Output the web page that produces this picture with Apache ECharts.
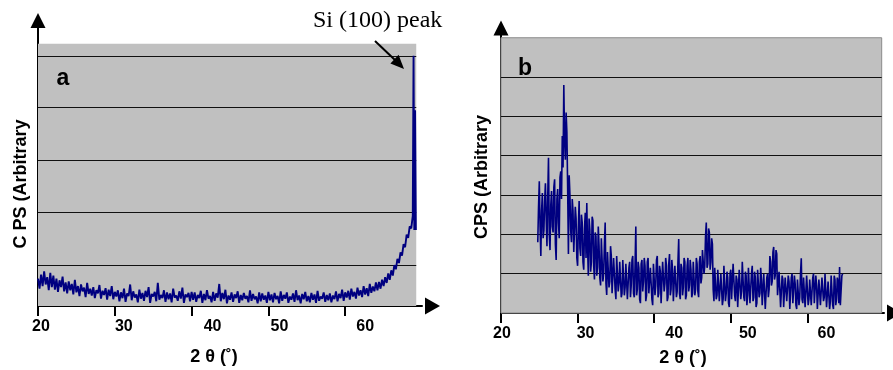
<!DOCTYPE html>
<html><head><meta charset="utf-8">
<script src="https://cdn.jsdelivr.net/npm/echarts@6/dist/echarts.min.js"></script>
<style>html,body{margin:0;padding:0;background:#fff}#c{width:893px;height:370px}</style>
</head><body><div id="c"></div>
<script>
// ---- data ----
const xTickValues = [20, 30, 40, 50, 60, 70];
const xAxisTitle = '2 θ (˚)';
const yTitleA = 'C PS (Arbitrary';
const yTitleB = 'CPS (Arbitrary';
const panelLabelA = 'a';
const panelLabelB = 'b';
const peakNote = 'Si (100) peak';

// panel a: 2θ scan 20.0° .. 68.8° every 0.2°, then the Si peak sampled finer
const angleStartA = 20.0, angleStepA = 0.2;
const valuesA = [
  0.52,0.33,0.60,0.38,0.66,0.41,0.55,0.30,0.63,0.36,0.58,
  0.31,0.52,0.27,0.49,0.36,0.56,0.28,0.45,0.24,0.47,
  0.30,0.42,0.22,0.50,0.26,0.38,0.19,0.41,0.28,0.35,0.17,0.44,0.23,0.33,0.20,
  0.36,0.15,0.30,0.24,0.40,0.14,0.29,0.21,0.34,0.12,0.31,0.19,0.38,0.13,0.27,
  0.18,0.30,0.09,0.26,0.15,0.33,0.08,0.24,0.19,0.41,
  0.11,0.28,0.16,0.22,0.07,0.31,0.14,0.25,0.10,0.29,
  0.17,0.36,0.06,0.23,0.18,0.27,0.09,0.44,0.12,0.21,
  0.15,0.30,0.08,0.26,0.13,0.24,0.07,0.33,0.16,0.20,
  0.10,0.28,0.14,0.35,0.06,0.22,0.17,0.25,0.09,0.27,
  0.12,0.26,0.08,0.21,0.15,0.29,0.06,0.23,0.11,0.30,
  0.14,0.19,0.07,0.27,0.10,0.24,0.16,0.42,0.09,0.25,
  0.13,0.31,0.05,0.20,0.12,0.26,0.08,0.22,0.15,0.28,
  0.06,0.21,0.11,0.25,0.14,0.19,0.07,0.30,0.10,0.23,
  0.13,0.18,0.05,0.26,0.09,0.24,0.12,0.20,0.06,0.27,
  0.11,0.22,0.07,0.25,0.13,0.19,0.05,0.28,0.10,0.21,
  0.14,0.26,0.06,0.18,0.12,0.24,0.08,0.30,0.11,0.20,
  0.05,0.23,0.13,0.27,0.09,0.19,0.07,0.25,0.12,0.22,
  0.06,0.29,0.10,0.18,0.14,0.26,0.08,0.21,0.11,0.24,
  0.07,0.20,0.13,0.28,0.09,0.23,0.15,0.31,0.10,0.26,
  0.16,0.29,0.12,0.33,0.18,0.27,0.14,0.35,0.20,0.30,
  0.17,0.38,0.22,0.34,0.19,0.42,0.25,0.37,0.28,0.45,
  0.30,0.46,0.33,0.50,0.38,0.55,0.44,0.62,0.50,0.68,
  0.58,0.78,0.70,0.90,0.82,1.02,0.96,1.18,1.12,1.36,
  1.30,1.52,1.48,1.72
];
const peakAnglesA = [68.9, 69.0, 69.1, 69.2];
const peakValuesA = [4.77, 1.45, 3.73, 1.45];

// panel b: 2θ scan 24.8° .. 64.6° every 0.1°
const angleStartB = 24.8, angleStepB = 0.1;
const valuesB = [
  1.80,2.70,3.35,2.20,1.45,2.60,3.05,1.90,2.10,2.85,
  3.30,2.40,1.70,2.95,3.95,2.00,1.60,2.75,3.10,2.20,
  2.05,3.20,3.40,1.75,1.35,2.90,3.15,2.30,1.90,3.45,
  3.60,2.90,4.50,3.70,5.80,4.40,3.90,5.10,4.60,3.20,
  1.50,3.50,3.00,2.10,1.80,2.90,2.60,1.55,1.60,2.70,
  2.40,1.40,1.20,2.20,2.85,1.65,1.45,2.50,2.30,1.30,
  1.10,2.15,2.55,1.40,2.80,1.70,0.95,2.40,2.10,1.05,
  1.30,2.45,2.35,1.20,0.85,2.05,1.95,0.95,1.15,2.20,
  1.70,0.90,0.70,1.90,1.85,0.80,1.00,1.75,2.30,0.75,
  0.46,1.55,1.60,0.65,0.80,1.70,1.45,0.50,0.55,1.40,
  1.35,0.60,0.35,1.45,1.50,0.55,0.75,1.30,1.25,0.40,
  0.50,1.35,1.40,0.45,0.65,1.25,1.20,0.35,0.30,1.15,
  1.30,0.40,0.70,1.35,1.45,0.50,0.40,1.20,2.20,0.45,
  0.60,1.30,1.15,0.35,0.25,1.25,1.35,0.55,0.80,1.40,
  1.20,0.30,0.45,1.30,1.40,0.50,0.55,1.15,1.10,0.35,
  0.20,1.25,1.30,0.45,0.70,1.35,1.45,0.40,0.50,1.20,
  1.05,0.25,0.30,1.30,1.35,0.55,0.75,1.40,1.20,0.30,
  0.40,1.25,1.50,0.45,0.60,1.35,1.10,0.30,0.25,1.20,
  1.25,0.40,0.55,1.30,1.88,0.50,0.35,1.25,1.15,0.45,
  0.65,1.40,1.30,0.35,0.45,1.20,1.40,0.55,0.70,1.35,
  1.10,0.40,0.50,1.30,1.35,0.45,0.60,1.40,1.25,0.55,
  0.40,1.30,1.45,0.75,0.90,1.60,1.55,1.00,1.20,1.95,
  2.30,1.15,1.25,2.15,2.05,1.10,1.30,1.90,1.75,0.60,
  0.30,1.15,1.20,0.35,0.45,1.10,1.05,0.30,0.25,1.00,
  0.95,0.20,0.35,1.20,1.15,0.30,0.50,1.05,0.90,0.25,
  0.15,1.00,1.10,0.35,0.40,1.25,1.20,0.45,0.30,0.95,
  0.85,0.15,0.20,1.10,1.05,0.35,0.55,1.30,1.25,0.40,
  0.30,1.05,0.95,0.20,0.45,1.15,1.10,0.25,0.20,1.00,
  1.20,0.30,0.40,1.05,0.90,0.15,0.25,1.10,1.05,0.40,
  0.50,1.15,0.85,0.20,0.15,1.00,0.95,0.10,0.05,0.90,
  1.00,0.40,0.60,1.45,1.30,0.70,0.80,1.55,1.68,0.85,
  0.95,1.60,1.50,0.45,0.40,1.05,1.00,0.15,0.20,0.95,
  0.85,0.15,0.10,0.90,0.95,0.30,0.35,0.95,0.80,0.10,
  0.15,0.90,1.00,0.25,0.30,0.95,0.75,0.20,0.10,0.85,
  0.90,0.20,0.40,1.00,1.39,0.35,0.25,0.90,0.85,0.15,
  0.10,0.95,0.95,0.20,0.35,0.85,0.80,0.20,0.15,0.90,
  1.00,0.25,0.30,0.95,0.70,0.10,0.10,0.85,0.90,0.20,
  0.25,0.90,0.85,0.30,0.40,1.00,0.95,0.15,0.15,0.80,
  0.75,0.10,0.30,0.95,0.90,0.20,0.10,0.95,0.85,0.20,
  0.35,0.90,0.80,0.25,1.17,0.20,0.15,0.95,1.00
];

// horizontal reference lines of each panel (y units of that panel)
const gridLevelsA = [0.77, 1.78, 2.77, 3.78, 4.77];
const gridLevelsB = [1, 2, 3, 4, 5, 6];
const plotTopA = 5.0, plotRightA = 69.25;
const plotTopB = 7.0, plotRightB = 69.7;

// ---- styling: per-tick label nudges (px, left edge vs tick) ----
const labelNudgeA = [-6, 0, 12, 2, 11, 0];
const labelNudgeB = [-8, -1, 11, 8, 10, 0];

// ---- build ----
const seriesDataA = valuesA.map((v, i) => [+(angleStartA + i * angleStepA).toFixed(2), v])
  .concat(peakAnglesA.map((a, i) => [a, peakValuesA[i]]));
const seriesDataB = valuesB.map((v, i) => [+(angleStartB + i * angleStepB).toFixed(2), v]);

const FONT = '"Liberation Sans", Arial, sans-serif';

function xAxisCfg(gi, nudges) {
  const rich = {};
  nudges.forEach((n, k) => {
    rich['n' + k] = { padding: [0, 0, 0, Math.max(0, 2 * n + 18)], color: '#000',
      fontFamily: FONT, fontWeight: 'bold', fontSize: 16 };
  });
  return {
    type: 'value', gridIndex: gi, min: xTickValues[0], max: xTickValues[xTickValues.length - 1], interval: 10,
    axisLine: { show: true, onZero: false, lineStyle: { color: '#000', width: 2 },
      symbol: ['none', 'triangle'], symbolSize: [17, 15], symbolOffset: [0, 10.5] },
    axisTick: { show: true, length: 10, lineStyle: { color: '#000', width: 2 } },
    axisLabel: { show: true, showMaxLabel: false, margin: 13, align: 'center',
      color: '#000', fontFamily: FONT, fontWeight: 'bold', fontSize: 16,
      formatter: v => '{n' + xTickValues.indexOf(v) + '|' + v + '}', rich: rich },
    splitLine: { show: false }
  };
}
function yAxisCfg(gi, max, arrowOffset) {
  return {
    type: 'value', gridIndex: gi, min: 0, max: max,
    axisLine: { show: true, onZero: false, lineStyle: { color: '#000', width: 2 },
      symbol: ['none', 'triangle'], symbolSize: [15, 15], symbolOffset: [0, arrowOffset] },
    axisTick: { show: false }, axisLabel: { show: false }, splitLine: { show: false }
  };
}
function backdrop(xi, top, right, levels, border) {
  return {
    type: 'line', xAxisIndex: xi, yAxisIndex: xi, data: [], z: 1, silent: true,
    markArea: { silent: true, z: 1,
      itemStyle: { color: '#c0c0c0', borderColor: border ? '#8a8a8a' : 'transparent', borderWidth: border ? 1 : 0 },
      data: [[{ coord: [20, 0] }, { coord: [right, top] }]] },
    markLine: { silent: true, z: 2, symbol: ['none', 'none'], label: { show: false },
      lineStyle: { color: '#111', width: 1, type: 'solid' },
      data: levels.map(v => [{ coord: [20, v] }, { coord: [right, v] }]) }
  };
}
function trace(xi, data, w) {
  return {
    type: 'line', xAxisIndex: xi, yAxisIndex: xi, data: data, z: 5,
    showSymbol: false, symbol: 'none', sampling: null, smooth: false,
    lineStyle: { color: '#000080', width: w }
  };
}

const tx = (text, x, y, font, extra) => Object.assign({
  type: 'text', x: x, y: y, z: 100,
  style: { text: text, font: font, fill: '#000', align: 'center', verticalAlign: 'middle' }
}, extra || {});

const option = {
  animation: false,
  backgroundColor: '#fff',
  grid: [
    { left: 38, top: 28, width: 384, height: 278 },
    { left: 501, top: 35, width: 383, height: 278 }
  ],
  xAxis: [xAxisCfg(0, labelNudgeA), xAxisCfg(1, labelNudgeB)],
  yAxis: [yAxisCfg(0, 5.3, 7.5), yAxisCfg(1, 7.07, 7)],
  series: [
    backdrop(0, plotTopA, plotRightA, gridLevelsA, false),
    backdrop(1, plotTopB, plotRightB, gridLevelsB, true),
    trace(0, seriesDataA, 1.9),
    trace(1, seriesDataB, 1.6)
  ],
  graphic: [
    tx(panelLabelA, 63, 79, 'bold 23px ' + FONT),
    tx(panelLabelB, 525, 69, 'bold 23px ' + FONT),
    tx(xAxisTitle, 214, 357, 'bold 18px ' + FONT),
    tx(xAxisTitle, 683, 358, 'bold 18px ' + FONT),
    tx(yTitleA, 21, 184, 'bold 18px ' + FONT, { rotation: Math.PI / 2 }),
    tx(yTitleB, 482, 177, 'bold 18px ' + FONT, { rotation: Math.PI / 2 }),
    { type: 'text', x: 313, y: 21, z: 100,
      style: { text: peakNote, font: '24px "Liberation Serif", "Times New Roman", serif', fill: '#000', align: 'left', verticalAlign: 'middle' } },
    { type: 'line', z: 100, shape: { x1: 375, y1: 41, x2: 395, y2: 60 }, style: { stroke: '#000', lineWidth: 2 } },
    { type: 'polygon', z: 100, shape: { points: [[404, 69], [390.4, 63.6], [398.6, 54.8]] }, style: { fill: '#000' } }
  ]
};
const chart = echarts.init(document.getElementById('c'));
chart.setOption(option);
</script>
</body></html>
